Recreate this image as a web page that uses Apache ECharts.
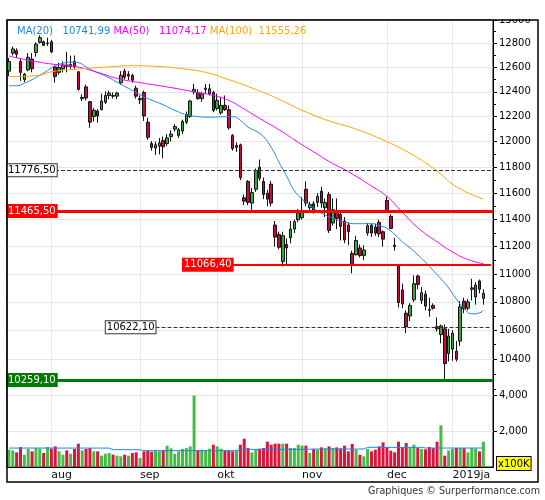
<!DOCTYPE html>
<html>
<head>
<meta charset="utf-8">
<script src="https://cdn.jsdelivr.net/npm/echarts@6/dist/echarts.min.js"></script>
<style>
html, body { margin: 0; padding: 0; background: #fff; }
#chart { width: 545px; height: 500px; }
</style>
</head>
<body>
<div id="chart"></div>
<script>
// trading days shown (Oct 3 not in the feed)
const dates = [
  '2018-07-17','2018-07-18','2018-07-19','2018-07-20','2018-07-23','2018-07-24','2018-07-25','2018-07-26','2018-07-27','2018-07-30','2018-07-31',
  '2018-08-01','2018-08-02','2018-08-03','2018-08-06','2018-08-07','2018-08-08','2018-08-09','2018-08-10','2018-08-13','2018-08-14','2018-08-15','2018-08-16','2018-08-17','2018-08-20','2018-08-21','2018-08-22','2018-08-23','2018-08-24','2018-08-27','2018-08-28','2018-08-29','2018-08-30','2018-08-31',
  '2018-09-03','2018-09-04','2018-09-05','2018-09-06','2018-09-07','2018-09-10','2018-09-11','2018-09-12','2018-09-13','2018-09-14','2018-09-17','2018-09-18','2018-09-19','2018-09-20','2018-09-21','2018-09-24','2018-09-25','2018-09-26','2018-09-27','2018-09-28',
  '2018-10-01','2018-10-02','2018-10-04','2018-10-05','2018-10-08','2018-10-09','2018-10-10','2018-10-11','2018-10-12','2018-10-15','2018-10-16','2018-10-17','2018-10-18','2018-10-19','2018-10-22','2018-10-23','2018-10-24','2018-10-25','2018-10-26','2018-10-29','2018-10-30','2018-10-31',
  '2018-11-01','2018-11-02','2018-11-05','2018-11-06','2018-11-07','2018-11-08','2018-11-09','2018-11-12','2018-11-13','2018-11-14','2018-11-15','2018-11-16','2018-11-19','2018-11-20','2018-11-21','2018-11-22','2018-11-23','2018-11-26','2018-11-27','2018-11-28','2018-11-29','2018-11-30',
  '2018-12-03','2018-12-04','2018-12-05','2018-12-06','2018-12-07','2018-12-10','2018-12-11','2018-12-12','2018-12-13','2018-12-14','2018-12-17','2018-12-18','2018-12-19','2018-12-20','2018-12-21','2018-12-27','2018-12-28',
  '2019-01-02','2019-01-03','2019-01-04','2019-01-07','2019-01-08','2019-01-09','2019-01-10','2019-01-11','2019-01-14'
];

// [open, close, low, high]
const candles = [
  [12570,12650,12530,12680],[12720,12755,12700,12775],[12740,12710,12680,12760],[12650,12560,12490,12670],
  [12500,12545,12480,12555],[12580,12685,12570,12720],[12670,12590,12560,12720],[12725,12795,12690,12810],
  [12810,12850,12800,12870],[12815,12785,12780,12825],[12800,12805,12780,12850],[12815,12730,12720,12830],
  [12605,12525,12475,12615],[12560,12600,12540,12640],[12590,12620,12560,12650],[12620,12610,12560,12730],
  [12610,12625,12590,12700],[12650,12605,12590,12700],[12565,12420,12410,12570],[12345,12355,12325,12380],
  [12440,12350,12330,12460],[12320,12155,12110,12325],[12200,12250,12160,12270],[12245,12205,12150,12260],
  [12255,12325,12250,12385],[12315,12370,12300,12405],[12370,12390,12340,12410],[12370,12365,12345,12395],
  [12365,12390,12340,12400],[12475,12535,12460,12570],[12570,12520,12500,12590],[12530,12545,12495,12570],
  [12535,12495,12475,12550],[12430,12365,12345,12450],[12335,12345,12300,12370],[12395,12205,12165,12410],
  [12155,12035,12015,12190],[11985,11955,11930,12005],[11950,11975,11895,12000],[11965,11990,11900,12030],
  [12010,11960,11870,12040],[11985,12030,11965,12060],[12040,12060,12000,12090],[12100,12120,12080,12140],
  [12050,12095,12030,12110],[12085,12160,12060,12175],[12155,12215,12140,12240],[12200,12325,12190,12335],
  [12400,12420,12380,12465],[12395,12345,12335,12420],[12345,12385,12320,12400],[12420,12430,12385,12465],
  [12385,12425,12370,12465],[12395,12250,12235,12410],[12265,12330,12250,12385],[12230,12290,12215,12360],
  [12290,12255,12245,12370],[12255,12110,12095,12290],[12050,11945,11930,12060],[11955,11970,11920,11995],
  [11975,11720,11700,11985],[11565,11540,11510,11590],[11690,11530,11510,11700],[11525,11605,11466,11640],
  [11630,11775,11610,11790],[11800,11715,11695,11860],[11690,11590,11555,11720],[11600,11555,11500,11625],
  [11670,11525,11500,11695],[11360,11270,11200,11390],[11290,11195,11180,11310],[11090,11280,11055,11310],
  [11215,11190,11060,11260],[11265,11330,11225,11390],[11330,11385,11300,11400],[11400,11450,11380,11480],
  [11415,11460,11400,11570],[11630,11525,11500,11690],[11490,11515,11470,11535],[11520,11470,11445,11540],
  [11530,11575,11495,11600],[11615,11525,11490,11650],[11490,11530,11420,11560],[11590,11320,11300,11610],
  [11375,11475,11355,11560],[11465,11410,11330,11560],[11440,11350,11245,11460],[11390,11250,11225,11420],
  [11360,11310,11210,11380],[11150,11070,11005,11170],[11140,11245,11135,11280],[11190,11135,11120,11215],
  [11135,11175,11100,11210],[11300,11355,11280,11375],[11360,11300,11270,11370],[11345,11300,11280,11370],
  [11380,11295,11270,11400],[11310,11255,11200,11320],[11545,11465,11450,11575],[11425,11335,11330,11440],
  [11210,11200,11170,11265],[11060,10795,10760,11070],[10885,10785,10755,10930],[10720,10625,10580,10740],
  [10700,10775,10665,10790],[10815,10930,10800,10990],[10985,10925,10890,10995],[10810,10865,10785,10905],
  [10855,10770,10740,10880],[10745,10740,10695,10830],[10775,10755,10745,10790],[10625,10610,10590,10690],
  [10570,10630,10510,10640],[10610,10370,10260,10640],[10440,10560,10385,10610],[10470,10580,10390,10600],
  [10455,10400,10385,10525],[10525,10765,10490,10805],[10805,10750,10720,10830],[10755,10800,10740,10820],
  [10890,10900,10810,10965],[10835,10920,10780,10940],[10950,10890,10860,10960],[10825,10860,10780,10890]
];

// volume, x100K
const volumes = [
  968,931,819,1117,689,1006,875,1061,1024,782,1117,1024,1155,875,689,931,745,1006,1304,931,
  1006,1061,875,875,633,745,782,689,633,596,689,633,782,819,503,875,912,857,931,875,
  931,1192,1043,745,875,1006,1061,1155,4000,931,968,912,1024,1248,1155,1024,931,912,875,912,
  1248,1583,1061,819,968,1024,1061,1415,1248,1304,1304,1304,1304,1061,1061,1248,1192,1192,782,1006,
  968,1099,1043,1155,1061,1099,1043,1192,875,1285,968,689,596,1006,875,968,1155,1378,1099,912,
  819,1415,1099,1341,1099,1248,1061,1006,987,1117,1061,1415,2328,633,931,1006,1061,1061,1061,819,
  1061,1024,875,1415
];

// moving averages: [day index, value]
const ma20 = [
  [0,12450],[2,12450],[4,12470],[6,12500],[8,12535],[10,12575],[12,12615],[14,12635],[16,12645],[18,12640],
  [20,12605],[22,12570],[25,12530],[28,12480],[30,12445],[33,12395],[35,12360],[38,12320],[40,12295],[43,12250],
  [46,12215],[49,12200],[52,12195],[55,12198],[58,12200],[60,12170],[62,12115],[64,12085],[66,12040],[68,11955],
  [70,11840],[72,11730],[74,11620],[76,11555],[78,11510],[80,11465],[82,11435],[84,11410],[86,11390],[88,11375],
  [90,11370],[92,11370],[94,11370],[96,11355],[98,11335],[100,11290],[102,11235],[104,11190],[106,11140],[108,11085],
  [110,11025],[112,10965],[114,10900],[116,10820],[118,10755],[120,10715],[122,10722],[123,10741.99]
];
const ma50 = [
  [0,12695],[6,12655],[12,12625],[17,12610],[23,12560],[28,12510],[34,12475],[41,12440],[48,12400],[53,12370],
  [57,12330],[61,12260],[65,12185],[70,12095],[75,11995],[79,11920],[83,11845],[88,11765],[94,11655],[98,11575],
  [102,11455],[106,11340],[111,11235],[115,11160],[119,11105],[123,11074.17]
];
const ma100 = [
  [0,12525],[6,12530],[12,12570],[19,12590],[26,12605],[32,12615],[38,12610],[45,12590],[51,12560],[57,12500],
  [61,12455],[66,12395],[70,12340],[74,12280],[76,12250],[83,12165],[89,12110],[98,12000],[105,11890],[111,11770],
  [116,11650],[123,11555.26]
];
const volMa = [
  [0,1060],[26,1058],[27,970],[34,965],[35,915],[59,915],[60,985],[78,990],[79,1005],[92,1005],
  [93,1100],[107,1100],[108,1060],[123,1060]
];

// support / resistance levels
const levels = [11776.5, 11465.5, 11066.4, 10622.1, 10259.1];

// axis ticks and labels
const monthStarts = ['2018-08-01','2018-09-03','2018-10-01','2018-11-01','2018-12-03','2019-01-02'];
const monthNames = ['aug','sep','okt','nov','dec','2019ja'];
const priceLabels = [10400,10600,10800,11000,11200,11400,11600,11800,12000,12200,12400,12600,12800,13000];
const priceMinor = [10200,10300,10400,10500,10600,10700,10800,10900,11000,11100,11200,11300,11400,11500,11600,
  11700,11800,11900,12000,12100,12200,12300,12400,12500,12600,12700,12800,12900,13000];
const volLabels = [2000, 4000];

const FONT = '"DejaVu Sans", Verdana, sans-serif';
const UP = '#36a936', DOWN = '#cc0a3a';
const VOL_UP = '#44bb44', VOL_DOWN = '#dc143c';
const BLUE = '#1e88e5', MAGENTA = '#ff00ff', ORANGE = '#ffa500';
const GRIDLINE = '#e6e6e6';

// 2 spare slots at the right edge
const cats = dates.concat(['', '']);

function fmt(v) {
    return v.toFixed(2).replace('.', ',');
}
function isMonthStart(index, value) {
    return monthStarts.indexOf(value) >= 0;
}
function last(arr) {
    return arr[arr.length - 1][1];
}

function boxLabel(bg, fg, border) {
    return {
        show: true,
        fontFamily: FONT,
        fontSize: 10,
        lineHeight: 11,
        color: fg,
        backgroundColor: bg,
        borderColor: border || bg,
        borderWidth: 1,
        padding: [1, 1, 0, 1]
    };
}

const chart = echarts.init(document.getElementById('chart'));

const option = {
    animation: false,
    backgroundColor: '#fff',
    title: {
        left: 12,
        top: 21,
        text: '{a|MA(20)   ' + fmt(last(ma20)) + '} {m|MA(50)   ' + fmt(last(ma50)) + '} {o|MA(100)  ' + fmt(last(ma100)) + '}',
        textStyle: {
            fontFamily: FONT,
            fontSize: 10,
            fontWeight: 'normal',
            rich: {
                a: { color: BLUE, fontFamily: FONT, fontSize: 10 },
                m: { color: MAGENTA, fontFamily: FONT, fontSize: 10 },
                o: { color: ORANGE, fontFamily: FONT, fontSize: 10 }
            }
        }
    },
    grid: [
        { left: 7, top: 20, width: 486, height: 375.5, show: true, borderColor: '#000', borderWidth: 1 },
        { left: 7, top: 395.5, width: 486, height: 71.5, show: true, borderColor: '#000', borderWidth: 1 }
    ],
    xAxis: [
        {
            type: 'category',
            gridIndex: 0,
            data: cats,
            axisLine: { show: false },
            axisTick: { show: false },
            axisLabel: { show: false },
            splitLine: { show: true, interval: isMonthStart, alignWithLabel: true, lineStyle: { color: GRIDLINE } }
        },
        {
            type: 'category',
            gridIndex: 1,
            data: cats,
            axisLine: { lineStyle: { color: '#000' } },
            axisTick: { show: false },
            axisLabel: {
                interval: isMonthStart,
                formatter: v => monthNames[monthStarts.indexOf(v)],
                align: 'left',
                margin: 3,
                fontFamily: FONT,
                fontSize: 11,
                color: '#111'
            },
            splitLine: { show: true, interval: isMonthStart, alignWithLabel: true, lineStyle: { color: GRIDLINE } }
        }
    ],
    yAxis: [
        {
            type: 'log',
            gridIndex: 0,
            position: 'right',
            min: 10155,
            max: 13000,
            axisLine: { show: true, lineStyle: { color: '#000' } },
            axisTick: { show: true, length: 4, customValues: priceLabels, lineStyle: { color: '#000' } },
            axisLabel: {
                customValues: priceLabels,
                formatter: v => String(Math.round(v)),
                margin: 6,
                fontFamily: FONT,
                fontSize: 10,
                color: '#000'
            },
            splitLine: { show: true, lineStyle: { color: GRIDLINE } }
        },
        {
            type: 'log',
            gridIndex: 0,
            position: 'right',
            min: 10155,
            max: 13000,
            axisLine: { show: false },
            axisTick: { show: true, length: 3, customValues: priceMinor, lineStyle: { color: '#000' } },
            axisLabel: { show: false },
            splitLine: { show: false }
        },
        {
            type: 'value',
            gridIndex: 1,
            position: 'right',
            min: 0,
            max: 4000,
            axisLine: { show: true, lineStyle: { color: '#000' } },
            axisTick: { show: true, length: 4, customValues: volLabels, lineStyle: { color: '#000' } },
            axisLabel: {
                customValues: volLabels,
                margin: 6,
                fontFamily: FONT,
                fontSize: 10,
                color: '#000'
            },
            splitLine: { show: true, lineStyle: { color: GRIDLINE } }
        }
    ],
    series: [
        {
            name: 'price',
            type: 'candlestick',
            xAxisIndex: 0,
            yAxisIndex: 0,
            barWidth: 3,
            data: candles,
            itemStyle: {
                color: UP,
                color0: DOWN,
                borderColor: '#111',
                borderColor0: '#111',
                borderWidth: 1
            },
            markLine: {
                silent: true,
                symbol: 'none',
                animation: false,
                data: [
                    {
                        yAxis: levels[0],
                        lineStyle: { color: '#333', type: 'dashed', width: 1 },
                        label: Object.assign(boxLabel('#fff', '#000', '#333'), { position: 'insideStart', distance: 0, formatter: fmt(levels[0]) })
                    },
                    {
                        yAxis: levels[1],
                        lineStyle: { color: '#ff0000', type: 'solid', width: 3 },
                        label: Object.assign(boxLabel('#ff0000', '#fff'), { position: 'insideStart', distance: 0, formatter: fmt(levels[1]) })
                    },
                    [
                        {
                            xAxis: 58, yAxis: levels[2],
                            lineStyle: { color: '#ff0000', type: 'solid', width: 2 },
                            label: Object.assign(boxLabel('#ff0000', '#fff'), { position: 'start', distance: 0, formatter: fmt(levels[2]) })
                        },
                        { xAxis: 125, yAxis: levels[2] }
                    ],
                    [
                        {
                            xAxis: 38, yAxis: levels[3],
                            lineStyle: { color: '#333', type: 'dashed', width: 1 },
                            label: Object.assign(boxLabel('#fff', '#000', '#333'), { position: 'start', distance: 0, formatter: fmt(levels[3]) })
                        },
                        { xAxis: 125, yAxis: levels[3] }
                    ],
                    {
                        yAxis: levels[4],
                        lineStyle: { color: '#007a00', type: 'solid', width: 3 },
                        label: Object.assign(boxLabel('#007a00', '#fff'), { position: 'insideStart', distance: 0, formatter: fmt(levels[4]) })
                    }
                ]
            }
        },
        {
            name: 'MA(20)', type: 'line', xAxisIndex: 0, yAxisIndex: 0,
            data: ma20, smooth: true, symbol: 'none',
            lineStyle: { color: BLUE, width: 1 }
        },
        {
            name: 'MA(50)', type: 'line', xAxisIndex: 0, yAxisIndex: 0,
            data: ma50, smooth: true, symbol: 'none',
            lineStyle: { color: MAGENTA, width: 1 }
        },
        {
            name: 'MA(100)', type: 'line', xAxisIndex: 0, yAxisIndex: 0,
            data: ma100, smooth: true, symbol: 'none',
            lineStyle: { color: ORANGE, width: 1 }
        },
        {
            name: 'volume', type: 'bar', xAxisIndex: 1, yAxisIndex: 2,
            barWidth: 3,
            data: volumes.map((v, i) => ({
                value: v,
                itemStyle: { color: candles[i][1] >= candles[i][0] ? VOL_UP : VOL_DOWN }
            }))
        },
        {
            name: 'volume MA', type: 'line', xAxisIndex: 1, yAxisIndex: 2,
            data: volMa, symbol: 'none',
            lineStyle: { color: BLUE, width: 1 }
        }
    ],
    graphic: [
        // hide the upper half of the 13000 label, like the source
        { type: 'rect', z: 100, silent: true, shape: { x: 494, y: 0, width: 51, height: 19 }, style: { fill: '#fff' } },
        { type: 'rect', z: 101, silent: true, shape: { x: 7, y: 20, width: 531, height: 462 }, style: { fill: 'none', stroke: '#000', lineWidth: 1.5 } },
        {
            type: 'text', z: 101, x: 497, y: 457,
            style: {
                text: 'x100K', fill: '#000', font: '10px ' + FONT,
                backgroundColor: '#ffff00', borderColor: '#000', borderWidth: 1, padding: [2, 1, 1, 1]
            }
        },
        {
            type: 'text', z: 101, right: 5, top: 486,
            style: { text: 'Graphiques © Surperformance.com', fill: '#333', font: '9.6px ' + FONT }
        }
    ]
};

chart.setOption(option);
window.addEventListener('resize', () => chart.resize());
</script>
</body>
</html>
